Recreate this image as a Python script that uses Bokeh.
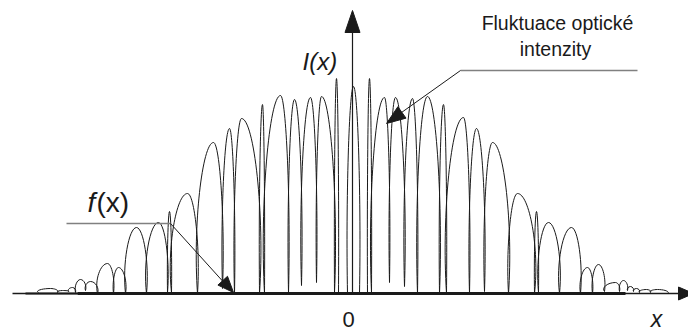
import numpy as np
from bokeh.plotting import figure
from bokeh.models import Range1d, Label, ColumnDataSource
from bokeh.embed import file_html
from bokeh.resources import INLINE

# ---- data: extrema of the fringe curve I(x) (x relative to origin, intensity) ----
fringe_x = [-314, -302, -295, -290, -284, -280, -277, -272, -267, -262, -255, -245,
            -239, -234, -227, -216, -206, -194, -185, -183, -181, -165, -155, -139,
            -130, -123, -118, -111, -93, -90, -88, -72, -64, -58, -51, -42, -36, -31,
            -18, -16, -14, -5, 1, 7, 15, 17, 19, 32, 37, 43, 52, 60, 65, 75, 87, 91,
            94, 111, 117, 124, 132, 140, 156, 165, 182, 184, 186, 196, 207, 219, 228,
            235, 240, 246, 252, 263, 267, 271, 275, 278, 281, 284, 287, 294, 298, 305, 315]
fringe_y = [1, 5, 1, 3, 2, 6, 1, 14, 3, 12, 0, 30,
            0, 26, 0, 66, 0, 71, 1, 82, 1, 100, 0, 151,
            5, 165, 0, 175, 0, 189, 0, 198, 1, 194, 8, 196, 11, 197,
            1, 215, 0, 0, 207, 0, 0, 215, 1, 196, 11, 196, 7, 195, 0, 197, 0, 189,
            0, 176, 0, 165, 2, 151, 0, 100, 0, 82, 1, 71, 0, 66, 0,
            26, 0, 29, 2, 11, 2, 13, 3, 7, 2, 5, 1, 4, 1, 4, 0]

tick_labels = ["0"]
axis_title_y = "I(x)"
axis_title_x = "x"
note_lines = ["Fluktuace optické", "intenzity"]

FONT = "Liberation Sans"
INK = "#1a1a1a"
GRAY = "#808080"
LIFT = 9  # label baseline correction

p = figure(width=688, height=331, x_range=Range1d(-352, 336), y_range=Range1d(-38, 293),
           x_axis_type=None, y_axis_type=None, toolbar_location=None,
           output_backend="svg", min_border=0, outline_line_color=None)
p.background_fill_color = "white"
p.border_fill_color = "white"

# ---- fringe curve as cubic bezier segments between consecutive extrema ----
fx = np.array(fringe_x, dtype=float)
fy = np.array(fringe_y, dtype=float)
xa, ya, xb, yb = fx[:-1], fy[:-1], fx[1:], fy[1:]
d = xb - xa
rise = yb >= ya
cx0 = np.where(rise, xa - 0.3 * d, xa + 0.7 * d)
cy0 = np.where(rise, ya + 0.45 * (yb - ya), ya)
cx1 = np.where(rise, xb - 0.7 * d, xb + 0.3 * d)
cy1 = np.where(rise, yb, yb + 0.45 * (ya - yb))
src = ColumnDataSource(dict(x0=xa, y0=ya, x1=xb, y1=yb, cx0=cx0, cy0=cy0, cx1=cx1, cy1=cy1))
p.bezier(x0="x0", y0="y0", x1="x1", y1="y1", cx0="cx0", cy0="cy0", cx1="cx1", cy1="cy1",
         source=src, line_color=INK, line_width=1)

# ---- axes ----
p.line([-340, 330], [0, 0], line_color=INK, line_width=1.3)
p.line([-327, -275], [0, 0], line_color=INK, line_width=2)
p.line([-275, 273], [0, 0], line_color=INK, line_width=3)
p.line([0, 0], [0, 265], line_color=INK, line_width=1.2)


def head(tip, tail, length, width):
    tip = np.array(tip, float)
    tail = np.array(tail, float)
    u = (tip - tail) / np.linalg.norm(tip - tail)
    n = np.array([-u[1], u[0]])
    base = tip - u * length
    pts = [tip, base + n * width / 2, base - n * width / 2]
    p.patch([q[0] for q in pts], [q[1] for q in pts], fill_color=INK, line_color=INK, line_width=1)


head((0, 283), (0, 0), 22, 15)
head((341, 0), (0, 0), 15, 13)

# ---- leaders ----
p.line([-286, -182], [70, 70], line_color=GRAY, line_width=1.5)
p.line([-182, -125], [70, 7], line_color=INK, line_width=1)
head((-119, 1), (-182, 70), 16, 13)

p.line([108, 285], [223, 223], line_color=GRAY, line_width=1.5)
p.line([108, 42], [223, 176], line_color=INK, line_width=1)
head((34, 170), (108, 223), 19, 14)


def label(x, y, text, size, italic=False, align="left"):
    p.add_layout(Label(x=x, y=y + LIFT, text=text, text_font=FONT, text_font_size=size,
                       text_font_style="italic" if italic else "normal",
                       text_align=align, text_baseline="alphabetic", text_color=INK))


# ---- texts ----
label(205, 262, note_lines[0], "19.5px", align="center")
label(203, 236, note_lines[1], "19.5px", align="center")
label(-50, 223, axis_title_y, "24px", italic=True)
label(-265, 82, "f", "28px", italic=True)
label(-256, 82, "(x)", "28px")
label(-4, -35, tick_labels[0], "22px", align="center")
label(304, -34, axis_title_x, "23px", italic=True, align="center")

open("out.html", "w").write(file_html(p, INLINE))
